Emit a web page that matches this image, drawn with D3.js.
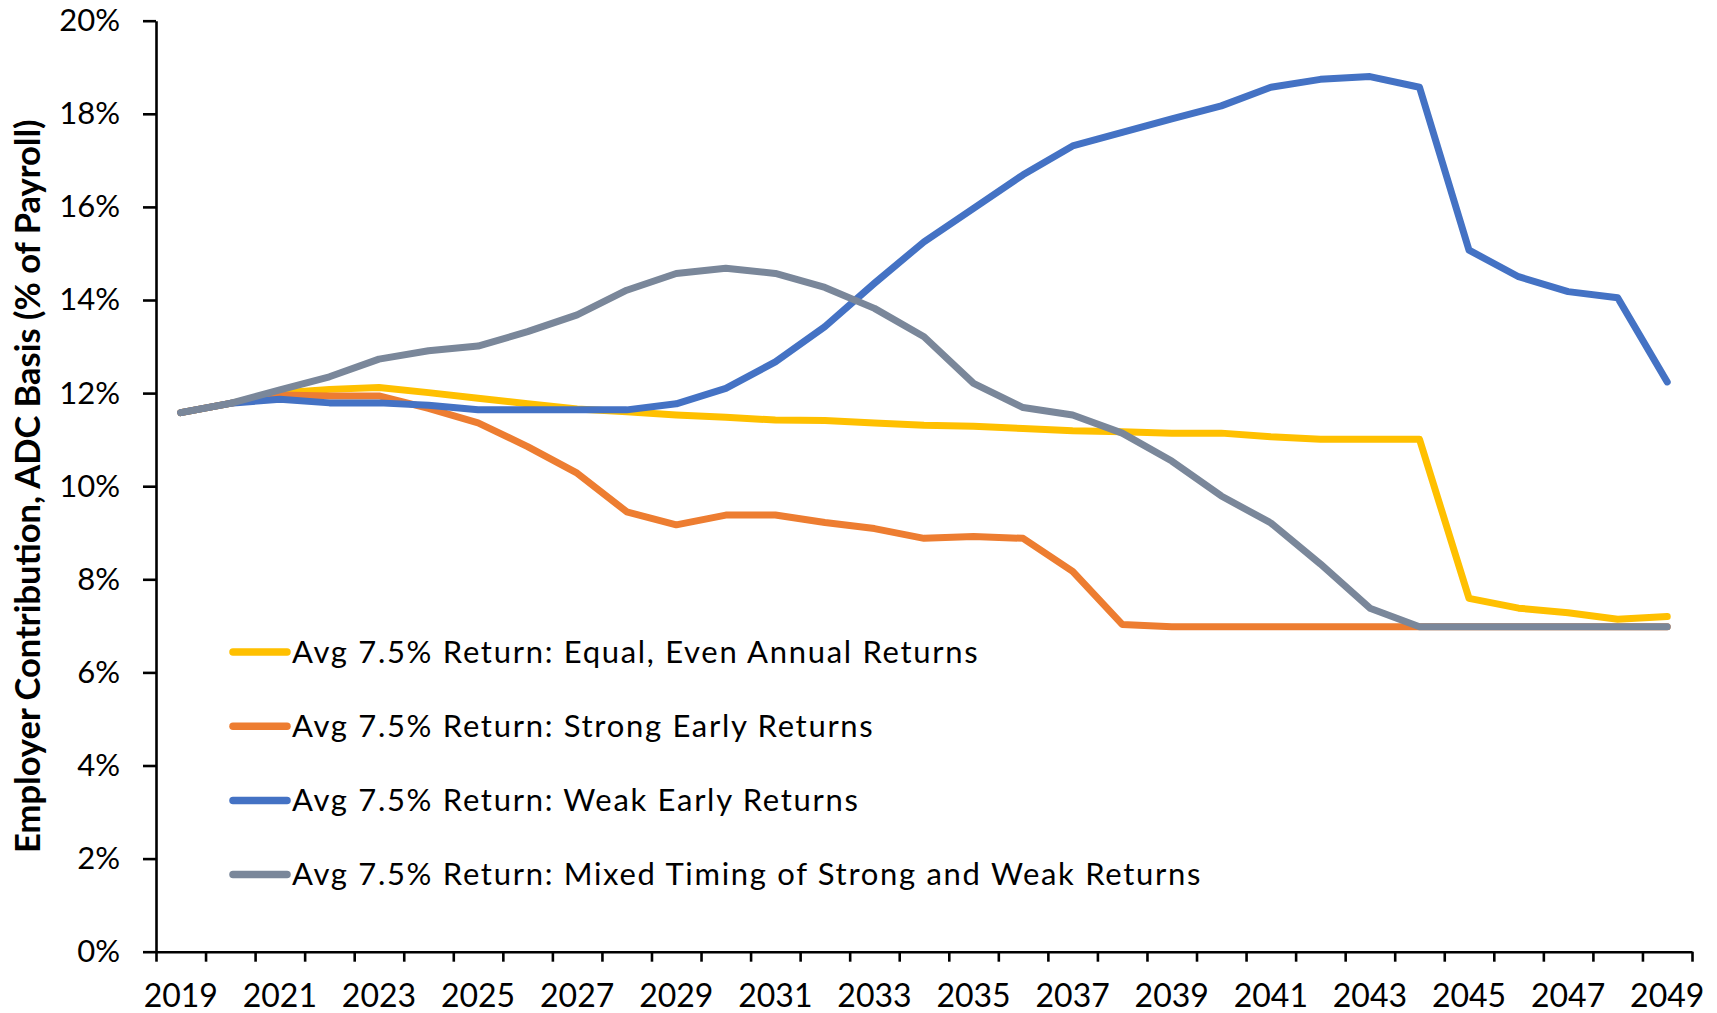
<!DOCTYPE html>
<html lang="en">
<head>
<meta charset="utf-8">
<title>Employer Contribution, ADC Basis</title>
<script src="https://d3js.org/d3.v7.min.js"></script>
<style>
  body { margin: 0; background: #fff; }
  svg text { font-family: Lato, "Open Sans", sans-serif; fill: #000; }
</style>
</head>
<body>
<svg id="chart" width="1717" height="1013"></svg>
<script>
// years on the category axis
var years = d3.range(2019, 2050);

// employer contribution, % of payroll
var equalReturns = [11.58, 11.78, 12.0, 12.08, 12.12, 12.01, 11.89, 11.77, 11.66, 11.6, 11.53, 11.48,
  11.42, 11.41, 11.36, 11.31, 11.29, 11.24, 11.19, 11.17, 11.14, 11.14, 11.06, 11.01, 11.01, 11.01,
  7.59, 7.38, 7.28, 7.14, 7.2];
var strongEarly = [11.58, 11.78, 11.96, 11.94, 11.94, 11.67, 11.36, 10.85, 10.28, 9.45, 9.17, 9.38,
  9.38, 9.22, 9.09, 8.88, 8.92, 8.88, 8.17, 7.03, 6.98, 6.98, 6.98, 6.98, 6.98, 6.98,
  6.98, 6.98, 6.98, 6.98, 6.98];
var weakEarly = [11.58, 11.78, 11.87, 11.79, 11.79, 11.74, 11.64, 11.64, 11.64, 11.64, 11.77, 12.1,
  12.67, 13.43, 14.36, 15.25, 15.97, 16.69, 17.31, 17.6, 17.89, 18.17, 18.57, 18.74, 18.8, 18.57,
  15.07, 14.5, 14.18, 14.05, 12.24];
var mixedTiming = [11.58, 11.78, 12.07, 12.35, 12.73, 12.91, 13.01, 13.32, 13.68, 14.21, 14.57, 14.68,
  14.57, 14.27, 13.82, 13.21, 12.21, 11.69, 11.53, 11.14, 10.54, 9.79, 9.21, 8.33, 7.38, 6.98,
  6.98, 6.98, 6.98, 6.98, 6.98];

var seriesNames = [
  'Avg 7.5% Return: Equal, Even Annual Returns',
  'Avg 7.5% Return: Strong Early Returns',
  'Avg 7.5% Return: Weak Early Returns',
  'Avg 7.5% Return: Mixed Timing of Strong and Weak Returns'
];
var seriesColors = ['#FFC000', '#ED7D31', '#4472C4', '#7A879A'];
var yTicks = [0, 2, 4, 6, 8, 10, 12, 14, 16, 18, 20];

var series = [equalReturns, strongEarly, weakEarly, mixedTiming].map(function(vals, i) {
  return { name: seriesNames[i], color: seriesColors[i], values: vals };
});

var svg = d3.select('#chart');
var plotLeft = 156, plotRight = 1692, plotTop = 20.7, plotBottom = 951.7;

var x = d3.scaleBand().domain(years).range([plotLeft, plotRight]).padding(0);
var xEdge = d3.scaleLinear().domain([0, years.length]).range([plotLeft, plotRight]);
var y = d3.scaleLinear().domain([0, 20]).range([plotBottom, plotTop]);

// y axis
var yAxis = svg.append('g')
  .attr('transform', 'translate(' + plotLeft + ',0)')
  .call(d3.axisLeft(y).tickValues(yTicks).tickSize(13).tickSizeOuter(0)
    .tickFormat(function(d) { return d + '%'; }));
yAxis.selectAll('text').attr('x', -36).style('font-size', '31px');

// x axis: ticks on category edges, labels every other year
svg.append('g')
  .attr('transform', 'translate(0,' + plotBottom + ')')
  .call(d3.axisBottom(xEdge).tickValues(d3.range(years.length + 1)).tickSize(10)
    .tickSizeOuter(0).tickFormat(''));

var xLabelAxis = svg.append('g')
  .attr('transform', 'translate(0,' + plotBottom + ')')
  .call(d3.axisBottom(x).tickValues(years.filter(function(d) { return (d - 2019) % 2 === 0; }))
    .tickSize(0));
xLabelAxis.select('.domain').remove();
xLabelAxis.selectAll('text').attr('y', 33).style('font-size', '32px');

svg.selectAll('.domain, .tick line').attr('stroke', '#000').attr('stroke-width', 2.6);

// y axis title
svg.append('text')
  .attr('transform', 'translate(40,' + ((plotTop + plotBottom) / 2) + ') rotate(-90)')
  .attr('text-anchor', 'middle')
  .style('font-size', '34.5px')
  .style('font-weight', 'bold')
  .text('Employer Contribution, ADC Basis (% of Payroll)');

// lines
var line = d3.line()
  .x(function(d, i) { return x(years[i]) + x.bandwidth() / 2; })
  .y(function(d) { return y(d); });

svg.append('g').selectAll('path')
  .data(series)
  .enter()
  .append('path')
  .attr('d', function(d) { return line(d.values); })
  .attr('fill', 'none')
  .attr('stroke', function(d) { return d.color; })
  .attr('stroke-width', 7)
  .attr('stroke-linejoin', 'round')
  .attr('stroke-linecap', 'round');

// legend
var legend = svg.append('g').selectAll('g')
  .data(series)
  .enter()
  .append('g')
  .attr('transform', function(d, i) { return 'translate(230,' + (652 + i * 74.2) + ')'; });

legend.append('line')
  .attr('x1', 3).attr('x2', 57)
  .attr('stroke', function(d) { return d.color; })
  .attr('stroke-width', 7.5)
  .attr('stroke-linecap', 'round');

legend.append('text')
  .attr('x', 62)
  .attr('dy', '0.35em')
  .style('font-size', '31px')
  .style('letter-spacing', '1.7px')
  .text(function(d) { return d.name; });
</script>
</body>
</html>
